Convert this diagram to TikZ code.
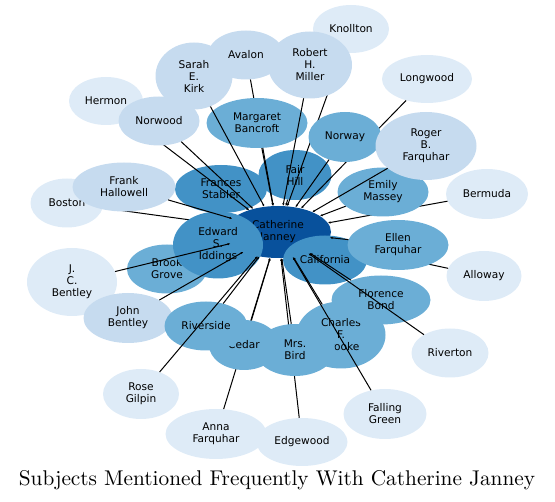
\documentclass[tikz,border=0pt]{standalone}
\usepackage{fontspec}
\newfontfamily\labelfont{DejaVu Sans}
\newfontfamily\titlefont{lmroman10-regular}[Extension=.otf]
\usetikzlibrary{shapes.geometric, arrows.meta}

\definecolor{hubblue}{HTML}{08519C}
\definecolor{strongblue}{HTML}{4292C6}
\definecolor{midblue}{HTML}{6BAED6}
\definecolor{weakblue}{HTML}{C6DBEF}
\definecolor{faintblue}{HTML}{DEEBF7}

\pgfdeclarelayer{outer}
\pgfdeclarelayer{outerlinks}
\pgfdeclarelayer{inner}
\pgfsetlayers{outer,outerlinks,inner,main}

\begin{document}
\begin{tikzpicture}[x=1pt, y=-1pt,
  subject/.style={ellipse, inner sep=0pt, align=center, text=black, font=\labelfont\fontsize{10.6}{12}\selectfont},
  dims/.style 2 args={minimum width=#1pt, minimum height=#2pt},
  hub/.style={subject, fill=hubblue},
  strong/.style={subject, fill=strongblue},
  medium/.style={subject, fill=midblue},
  weak/.style={subject, fill=weakblue},
  faint/.style={subject, fill=faintblue},
  line/.style={draw, line width=1pt, -{Latex[length=2.6pt, width=2.4pt]}}]

  \useasboundingbox (0,0) rectangle (555,502);

  % subjects in the back
  \begin{pgfonlayer}{outer}
  \node [strong, dims={92}{48}] (frances) at (221,189) {Frances\\Stabler};
  \node [medium, dims={80}{49}] (brookgrove) at (167,269) {Brook\\Grove};
  \node [strong, dims={73}{50}] (fairhill) at (295,175) {Fair\\Hill};
  \node [faint, dims={73}{49}] (boston) at (67,203) {Boston};
  \node [faint, dims={74}{48}] (hermon) at (106,101) {Hermon};
  \node [weak, dims={77}{67}] (sarah) at (194,76) {Sarah\\E.\\Kirk};
  \node [weak, dims={76}{49}] (avalon) at (246,55) {Avalon};
  \node [faint, dims={76}{48}] (knollton) at (351,29) {Knollton};
  \node [faint, dims={90}{48}] (longwood) at (427,79) {Longwood};
  \node [faint, dims={82}{50}] (bermuda) at (487,194) {Bermuda};
  \node [faint, dims={75}{50}] (alloway) at (484,276) {Alloway};
  \node [faint, dims={90}{68}] (jcbentley) at (72,282) {J.\\C.\\Bentley};
  \node [medium, dims={89}{67}] (charles) at (341,335) {Charles\\F.\\Brooke};
  \node [faint, dims={101}{50}] (anna) at (216,434) {Anna\\Farquhar};
  \node [faint, dims={91}{48}] (edgewood) at (302,442) {Edgewood};
  \node [faint, dims={77}{49}] (riverton) at (450,353) {Riverton};
  \node [faint, dims={83}{50}] (fallinggreen) at (385,414) {Falling\\Green};
  \node [faint, dims={76}{50}] (rosegilpin) at (141,394) {Rose\\Gilpin};
  \end{pgfonlayer}

  % subjects in front
  \begin{pgfonlayer}{inner}
  \node [hub, dims={106}{52}] (catherine) at (278,232) {Catherine\\Janney};
  \node [strong, dims={90}{67}] (edward) at (218,245) {Edward\\S.\\Iddings};
  \node [weak, dims={103}{49}] (frank) at (124,187) {Frank\\Hallowell};
  \node [weak, dims={81}{49}] (norwood) at (159,121) {Norwood};
  \node [medium, dims={101}{50}] (margaret) at (257,123) {Margaret\\Bancroft};
  \node [weak, dims={84}{67}] (robert) at (310,65) {Robert\\H.\\Miller};
  \node [medium, dims={73}{50}] (norway) at (345,137) {Norway};
  \node [medium, dims={91}{49}] (emily) at (383,192) {Emily\\Massey};
  \node [weak, dims={101}{68}] (roger) at (426,146) {Roger\\B.\\Farquhar};
  \node [strong, dims={84}{49}] (california) at (325,260) {California};
  \node [medium, dims={101}{50}] (ellen) at (398,245) {Ellen\\Farquhar};
  \node [medium, dims={99}{49}] (florence) at (381,300) {Florence\\Bond};
  \node [weak, dims={89}{50}] (john) at (128,318) {John\\Bentley};
  \node [medium, dims={80}{52}] (mrsbird) at (295,350) {Mrs.\\Bird};
  \node [medium, dims={70}{50}] (cedar) at (244,345) {Cedar};
  \node [medium, dims={83}{49}] (riverside) at (206,326) {Riverside};
  \end{pgfonlayer}

  % links hidden behind the front subjects
  \begin{pgfonlayer}{outerlinks}
  \path [line] (frances) -- (catherine);
  \path [line] (brookgrove) -- (catherine);
  \path [line] (boston) -- (catherine);
  \path [line] (hermon) -- (catherine);
  \path [line] (avalon) -- (catherine);
  \path [line] (knollton) -- (catherine);
  \path [line] (longwood) -- (catherine);
  \path [line] (bermuda) -- (catherine);
  \path [line] (alloway) -- (catherine);
  \path [line] (anna) -- (catherine);
  \path [line] (edgewood) -- (catherine);
  \path [line] (edward) -- (catherine);
  \path [line] (california) -- (catherine);
  \end{pgfonlayer}

  % links on top
  \path [line] (fairhill) -- (catherine);
  \path [line] (sarah) -- (catherine);
  \path [line] (norwood) -- (catherine);
  \path [line] (frank) -- (catherine);
  \path [line] (jcbentley) -- (catherine);
  \path [line] (john) -- (catherine);
  \path [line] (margaret) -- (catherine);
  \path [line] (robert) -- (catherine);
  \path [line] (norway) -- (catherine);
  \path [line] (roger) -- (catherine);
  \path [line] (emily) -- (catherine);
  \path [line] (ellen) -- (catherine);
  \path [line] (florence) -- (catherine);
  \path [line] (riverton) -- (catherine);
  \path [line] (charles) -- (catherine);
  \path [line] (fallinggreen) -- (catherine);
  \path [line] (mrsbird) -- (catherine);
  \path [line] (cedar) -- (catherine);
  \path [line] (riverside) -- (catherine);
  \path [line] (rosegilpin) -- (catherine);

  \node [anchor=base, font=\titlefont\fontsize{21.3}{25}\selectfont] (title) at (277,486) {Subjects Mentioned Frequently With Catherine Janney};
\end{tikzpicture}
\end{document}
